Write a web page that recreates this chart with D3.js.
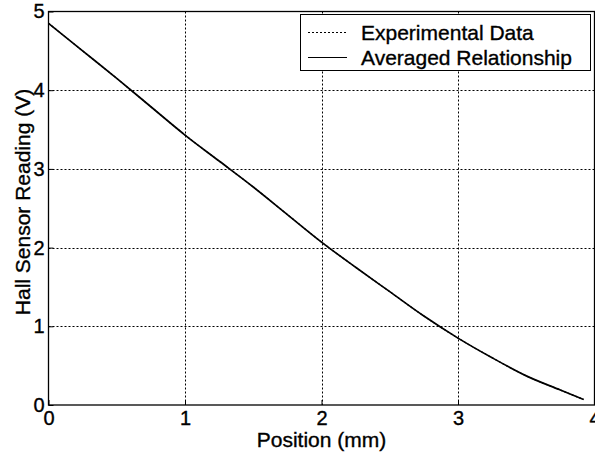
<!DOCTYPE html>
<html>
<head>
<meta charset="utf-8">
<script src="https://cdn.jsdelivr.net/npm/d3@7"></script>
<style>
  body { margin: 0; background: #fff; }
  svg text { font-family: "Liberation Sans", Arial, sans-serif; fill: #000; stroke: #000; stroke-width: 0.35px; }
</style>
</head>
<body>
<svg id="chart"></svg>
<script>
const width = 595;
const height = 454;

// Data
const position = [0, 0.25, 0.5, 0.75, 1.0, 1.25, 1.5, 1.75, 2.0, 2.25, 2.5, 2.75, 3.0, 3.25, 3.5, 3.75, 3.92];
const averaged = [4.85, 4.50, 4.15, 3.79, 3.43, 3.10, 2.77, 2.42, 2.07, 1.75, 1.44, 1.13, 0.85, 0.60, 0.37, 0.19, 0.07];
const experimental = [4.85, 4.50, 4.15, 3.79, 3.43, 3.10, 2.77, 2.42, 2.07, 1.75, 1.44, 1.13, 0.85, 0.60, 0.37, 0.19, 0.07];
const xTicks = [0, 1, 2, 3, 4];
const yTicks = [0, 1, 2, 3, 4, 5];
const legendLabels = ["Experimental Data", "Averaged Relationship"];

const tickFont = 20;
const labelFont = 21;
const margin = { left: 48.5, right: 594.5, top: 11.5, bottom: 405 };

const svg = d3.select("#chart")
  .attr("width", width)
  .attr("height", height);

const x = d3.scaleLinear().domain([0, 4]).range([margin.left, margin.right]);
const y = d3.scaleLinear().domain([0, 5]).range([margin.bottom, margin.top]);

// grid lines (dotted)
svg.append("g")
  .selectAll("line")
  .data(xTicks.slice(1, -1))
  .enter().append("line")
  .attr("x1", d => Math.round(x(d)) + 0.5).attr("x2", d => Math.round(x(d)) + 0.5)
  .attr("y1", margin.top).attr("y2", margin.bottom)
  .attr("stroke", "#000").attr("stroke-dasharray", "2,2");

svg.append("g")
  .selectAll("line")
  .data(yTicks.slice(1, -1))
  .enter().append("line")
  .attr("y1", d => Math.round(y(d)) + 0.5).attr("y2", d => Math.round(y(d)) + 0.5)
  .attr("x1", margin.left).attr("x2", margin.right)
  .attr("stroke", "#000").attr("stroke-dasharray", "2,2");

// axes box
svg.append("rect")
  .attr("x", margin.left).attr("y", margin.top)
  .attr("width", margin.right - margin.left)
  .attr("height", margin.bottom - margin.top)
  .attr("fill", "none").attr("stroke", "#000").attr("stroke-width", 1.3);

// tick labels
const xAxis = svg.append("g")
  .attr("transform", `translate(0,${margin.bottom})`)
  .call(d3.axisBottom(x).tickValues(xTicks).tickSize(-5).tickPadding(6).tickFormat(d3.format("d")));
xAxis.select(".domain").remove();
xAxis.selectAll("text").attr("font-size", tickFont).style("font-family", "Liberation Sans, Arial, sans-serif");

const yAxis = svg.append("g")
  .attr("transform", `translate(${margin.left},0)`)
  .call(d3.axisLeft(y).tickValues(yTicks).tickSize(-5).tickPadding(4).tickFormat(d3.format("d")));
yAxis.select(".domain").remove();
yAxis.selectAll("text").attr("font-size", tickFont).style("font-family", "Liberation Sans, Arial, sans-serif");

// lines
const line = d3.line()
  .x((d, i) => x(position[i]))
  .y(d => y(d))
  .curve(d3.curveMonotoneX);

svg.append("path")
  .datum(experimental)
  .attr("d", line)
  .attr("fill", "none").attr("stroke", "#000").attr("stroke-width", 1.2)
  .attr("stroke-dasharray", "2,2");

svg.append("path")
  .datum(averaged)
  .attr("d", line)
  .attr("fill", "none").attr("stroke", "#000").attr("stroke-width", 1.7);

// axis labels
svg.append("text")
  .attr("x", (margin.left + margin.right) / 2)
  .attr("y", 447)
  .attr("text-anchor", "middle")
  .attr("font-size", labelFont)
  .text("Position (mm)");

svg.append("text")
  .attr("transform", "translate(30,202) rotate(-90)")
  .attr("text-anchor", "middle")
  .attr("font-size", labelFont)
  .text("Hall Sensor Reading (V)");

// legend
const legend = svg.append("g");
legend.append("rect")
  .attr("x", 300.5).attr("y", 14.5).attr("width", 290).attr("height", 56)
  .attr("fill", "#fff").attr("stroke", "#000");

legendLabels.forEach((label, i) => {
  const ly = 32 + i * 25;
  legend.append("line")
    .attr("x1", 308).attr("x2", 347).attr("y1", ly + 0.5).attr("y2", ly + 0.5)
    .attr("stroke", "#000")
    .attr("stroke-dasharray", i === 0 ? "2,2" : null);
  legend.append("text")
    .attr("x", 361).attr("y", ly + 7.5)
    .attr("font-size", labelFont)
    .text(label);
});
</script>
</body>
</html>
